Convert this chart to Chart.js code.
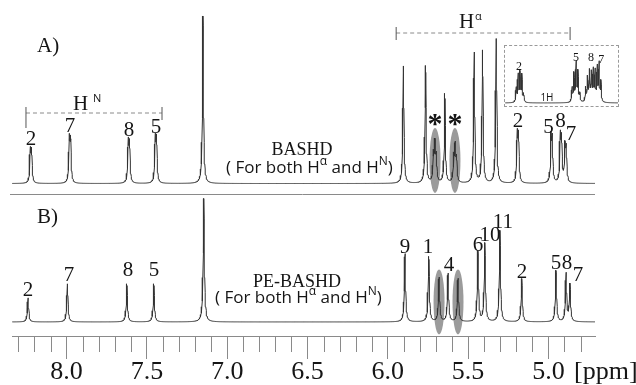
<!DOCTYPE html>
<html>
<head>
<meta charset="utf-8">
<script src="https://cdn.jsdelivr.net/npm/chart.js@4.4.0/dist/chart.umd.min.js"></script>
<style>
  body { margin: 0; background: #fff; }
  #wrap { position: relative; width: 636px; height: 385px; }
  #inset { position: absolute; left: 504px; top: 45px; width: 113px; height: 60px; border: 1px dashed #9a9a9a; }
</style>
</head>
<body>
<div id="wrap">
  <canvas id="nmr" width="636" height="385"></canvas>
  <div id="inset"><canvas id="ins" width="113" height="60"></canvas></div>
</div>
<script>
// ppm window of the spectrum
const ppmMin = 4.71, ppmMax = 8.34;
const tickStep = 0.1;

// A) BASHD peak list (ppm / intensity)
const peakPpmA = [8.226, 8.218, 7.983, 7.975, 7.616, 7.608, 7.448, 7.440, 7.151,
  5.903, 5.765, 5.645, 5.716, 5.707, 5.698, 5.590, 5.581, 5.572,
  5.462, 5.410, 5.325, 5.194, 5.186, 4.984, 4.976, 4.926, 4.918, 4.897, 4.889];
const peakIntA = [31, 30, 42, 40, 39, 37, 42, 41, 167,
  117, 117, 89, 26, 36, 24, 24, 34, 22,
  130, 132, 144, 46, 44, 43, 41, 44, 40, 34, 32];

// B) PE-BASHD peak list
const peakPpmB = [8.240, 7.995, 7.625, 7.457, 7.146, 5.893, 5.745, 5.681, 5.625, 5.563,
  5.439, 5.396, 5.302, 5.166, 4.953, 4.890, 4.866];
const peakIntB = [24, 38, 38, 38, 123, 68, 65, 44, 48, 43, 70, 78, 91, 43, 51, 48, 37];

// inset (H-alpha multiplets 2 / 5 / 8 / 7 of BASHD)
const insetPpm = [5.204, 5.197, 5.190, 5.183, 5.176,
  4.995, 4.988, 4.980, 4.973, 4.966,
  4.944, 4.937, 4.930, 4.923, 4.916, 4.909, 4.901, 4.894, 4.887];
const insetInt = [14, 27, 29, 27, 8,
  14, 28, 39, 30, 8,
  14, 24, 30, 28, 31, 30, 34, 38, 20];

// residue labels: text, ppm, height
const labTextA = ['2', '7', '8', '5', '2', '5', '8', '7'];
const labPpmA = [8.222, 7.979, 7.612, 7.443, 5.190, 5.000, 4.925, 4.860];
const labValA = [44, 57, 53, 56, 62, 56, 62, 49];
const labTextB = ['2', '7', '8', '5', '9', '1', '4', '6', '10', '11', '2', '5', '8', '7'];
const labPpmB = [8.240, 7.985, 7.618, 7.456, 5.893, 5.750, 5.619, 5.439, 5.364, 5.283, 5.165, 4.953, 4.885, 4.816];
const labValB = [31, 46, 51, 51, 74, 74, 56, 76, 86, 99, 49, 58, 58, 46];

// overlapping (starred) signals
const starPpmA = [5.706, 5.582];
const starPpmB = [5.681, 5.563];

const serif = '"Liberation Serif", "DejaVu Serif", serif';
const sans = '"Open Sans", "Liberation Sans", sans-serif';

function spectrum(ppms, ints, hw, lo, hi, step) {
  let xs = [];
  for (let i = 0; lo + i * step <= hi; i++) xs.push(+(lo + i * step).toFixed(4));
  xs = xs.concat(ppms).sort((a, b) => a - b);
  return xs.map((x) => ({
    x: x,
    y: ppms.reduce((s, p, k) => s + ints[k] * hw * hw / ((x - p) * (x - p) + hw * hw), 0),
  }));
}

function rich(ctx, x, y, parts, size) {
  let cx = x;
  parts.forEach(([t, sup]) => {
    ctx.font = (sup ? Math.round(size * 0.7) : size) + 'px ' + sans;
    ctx.fillText(t, cx, sup ? y - size * 0.45 : y);
    cx += ctx.measureText(t).width;
  });
}

function dashedBracket(ctx, x1, x2, y, l1, l2) {
  ctx.save();
  ctx.strokeStyle = '#8a8a8a';
  ctx.lineWidth = 1;
  ctx.setLineDash([4, 3]);
  ctx.beginPath();
  ctx.moveTo(x1, y); ctx.lineTo(x2, y);
  ctx.stroke();
  ctx.setLineDash([]);
  ctx.strokeStyle = '#555';
  ctx.beginPath();
  ctx.moveTo(x1, y - 6); ctx.lineTo(x1, y + l1);
  ctx.moveTo(x2, y - 6); ctx.lineTo(x2, y + l2);
  ctx.stroke();
  ctx.restore();
}

const decor = {
  id: 'decor',
  beforeDatasetsDraw(chart) {
    const ctx = chart.ctx, x = chart.scales.x;
    ctx.save();
    ctx.fillStyle = '#9b9b9b';
    [[chart.scales.yA, starPpmA, 23], [chart.scales.yB, starPpmB, 20]].forEach(([ys, list, v]) => {
      list.forEach((p) => {
        ctx.beginPath();
        ctx.ellipse(x.getPixelForValue(p), ys.getPixelForValue(v), 5.5, 32.5, 0, 0, Math.PI * 2);
        ctx.fill();
      });
    });
    ctx.restore();
  },
  afterDraw(chart) {
    const ctx = chart.ctx, x = chart.scales.x, yA = chart.scales.yA, yB = chart.scales.yB;
    ctx.save();
    // separator between panels
    ctx.strokeStyle = '#8a8a8a';
    ctx.lineWidth = 1;
    ctx.beginPath();
    ctx.moveTo(chart.chartArea.left - 2, Math.round(yA.bottom) + 0.5);
    ctx.lineTo(chart.chartArea.right, Math.round(yA.bottom) + 0.5);
    ctx.stroke();
    // minor ticks
    ctx.beginPath();
    for (let k = 48; k <= 83; k++) {
      if (k % 5 === 0) continue;
      const px = Math.round(x.getPixelForValue(k / 10)) + 0.5;
      ctx.moveTo(px, x.top);
      ctx.lineTo(px, x.top + 16);
    }
    ctx.stroke();

    ctx.fillStyle = '#151515';
    ctx.textAlign = 'center';
    ctx.textBaseline = 'middle';
    ctx.font = '21px ' + serif;
    labTextA.forEach((t, i) => ctx.fillText(t, x.getPixelForValue(labPpmA[i]), yA.getPixelForValue(labValA[i])));
    labTextB.forEach((t, i) => ctx.fillText(t, x.getPixelForValue(labPpmB[i]), yB.getPixelForValue(labValB[i])));
    ctx.font = 'bold 30px ' + serif;
    starPpmA.forEach((p) => ctx.fillText('*', x.getPixelForValue(p), yA.getPixelForValue(58)));

    ctx.textBaseline = 'alphabetic';
    ctx.font = '21px ' + serif;
    ctx.textAlign = 'left';
    ctx.fillText('A)', 37, 52);
    ctx.fillText('B)', 37, 223);
    ctx.font = '18px ' + serif;
    ctx.textAlign = 'center';
    ctx.fillText('BASHD', 302, 155);
    ctx.fillText('PE-BASHD', 297, 287);
    ctx.textAlign = 'left';
    rich(ctx, 226, 173, [['( For both H'], ['α', 1], [' and H'], ['N', 1], [')']], 17);
    rich(ctx, 215, 303, [['( For both H'], ['α', 1], [' and H'], ['N', 1], [')']], 17);

    // H^N and H^alpha brackets
    dashedBracket(ctx, x.getPixelForValue(8.253), x.getPixelForValue(7.406), 113, 15, 7);
    dashedBracket(ctx, x.getPixelForValue(5.948), x.getPixelForValue(4.865), 33, 7, 7);
    ctx.fillStyle = '#151515';
    ctx.font = '21px ' + serif;
    ctx.fillText('H', 73, 110);
    ctx.fillText('H', 459, 28);
    ctx.font = '11px ' + sans;
    ctx.fillText('N', 93, 102);
    ctx.fillText('α', 475, 20);

    ctx.font = '26px ' + serif;
    ctx.textBaseline = 'top';
    ctx.fillText('[ppm]', 574, x.top + 23);
    ctx.restore();
  },
};

const lineStyle = { borderColor: '#333', borderWidth: 1, pointRadius: 0, tension: 0, fill: false };

new Chart(document.getElementById('nmr'), {
  type: 'line',
  data: {
    datasets: [
      Object.assign({ data: spectrum(peakPpmA, peakIntA, 0.004, ppmMin, ppmMax, 0.002), yAxisID: 'yA' }, lineStyle),
      Object.assign({ data: spectrum(peakPpmB, peakIntB, 0.0045, ppmMin, ppmMax, 0.002), yAxisID: 'yB' }, lineStyle),
    ],
  },
  options: {
    responsive: false,
    animation: false,
    parsing: false,
    layout: { padding: { left: 12, right: 41, top: 10, bottom: 0 } },
    plugins: { legend: { display: false }, tooltip: { enabled: false } },
    scales: {
      x: {
        type: 'linear', min: ppmMin, max: ppmMax, reverse: true,
        border: { color: '#8a8a8a', width: 1 },
        grid: {
          drawOnChartArea: false, tickLength: 23,
          color: (c) => (Math.round(c.tick.value * 10) % 5 === 0 ? '#8a8a8a' : 'rgba(0,0,0,0)'),
        },
        ticks: {
          stepSize: tickStep, autoSkip: false, maxRotation: 0, includeBounds: false, padding: 0,
          color: '#151515', font: { family: serif, size: 26, lineHeight: 1 },
          callback: (v) => { const k = Math.round(v * 10); return k % 5 === 0 ? (k / 10).toFixed(1) : ''; },
        },
      },
      // stacked panels: the later-listed axis is placed on top
      yB: {
        type: 'linear', position: 'left', stack: 'nmr', stackWeight: 142, min: -14, max: 128,
        grid: { display: false, drawTicks: false }, border: { display: false }, ticks: { display: false },
      },
      yA: {
        type: 'linear', position: 'left', stack: 'nmr', stackWeight: 183, min: -10, max: 173,
        grid: { display: false, drawTicks: false }, border: { display: false }, ticks: { display: false },
      },
    },
  },
  plugins: [decor],
});

// inset chart
const insetLabels = {
  id: 'insetLabels',
  afterDraw(chart) {
    const ctx = chart.ctx, x = chart.scales.x, y = chart.scales.y;
    ctx.save();
    ctx.fillStyle = '#151515';
    ctx.textAlign = 'center';
    ctx.textBaseline = 'middle';
    ctx.font = '12px ' + serif;
    [['2', 5.194, 36.5], ['5', 4.980, 45.5], ['8', 4.924, 45], ['7', 4.886, 43.5]].forEach(([t, p, v]) =>
      ctx.fillText(t, x.getPixelForValue(p), y.getPixelForValue(v)));
    ctx.font = '10px ' + sans;
    ctx.fillText('1H', x.getPixelForValue(5.089), y.getPixelForValue(5));
    ctx.restore();
  },
};

new Chart(document.getElementById('ins'), {
  type: 'line',
  data: { datasets: [Object.assign({ data: spectrum(insetPpm, insetInt, 0.0018, 4.823, 5.246, 0.001) }, lineStyle)] },
  options: {
    responsive: false,
    animation: false,
    parsing: false,
    layout: { padding: 0 },
    plugins: { legend: { display: false }, tooltip: { enabled: false } },
    scales: {
      x: { type: 'linear', display: false, min: 4.823, max: 5.246, reverse: true },
      y: { type: 'linear', display: false, min: -3, max: 57 },
    },
  },
  plugins: [insetLabels],
});
</script>
</body>
</html>
